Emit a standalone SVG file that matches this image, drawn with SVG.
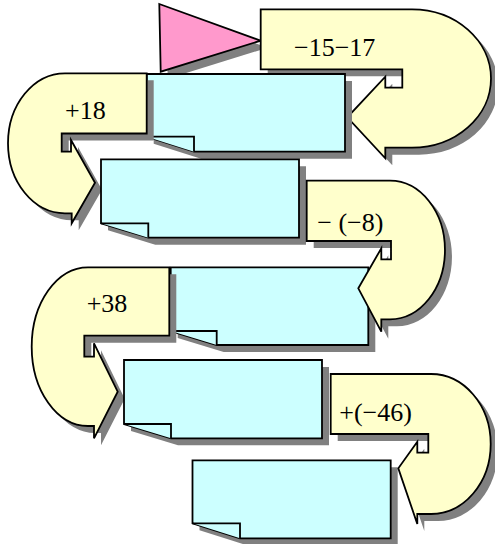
<svg xmlns="http://www.w3.org/2000/svg" xmlns:xlink="http://www.w3.org/1999/xlink" width="495" height="544" viewBox="0 0 495 544">
<style>
.sh{fill:#808080;stroke:none}
.arrow{fill:#FFFFCC;stroke:#000;stroke-width:1.8;stroke-linejoin:miter}
.note{fill:#CCFFFF;stroke:#000;stroke-width:1.8;stroke-linejoin:miter}
.tri{fill:#FF99CC;stroke:#000;stroke-width:1.8;stroke-linejoin:miter}
.lbl{font-family:"Liberation Serif","Times New Roman",serif;font-size:26px;fill:#000}
</style>
<defs>
<polygon id="tri" points="159.3,4 260.7,40.7 160.7,71.7"/>
<path id="u1" d="M260.7,9.3 H412 A79,69.2 0 0 1 412,147.7 H385.3 V158.3 L347.3,117.3 L385.3,76.7 V87.7 H402.3 V69.3 H260.7 Z"/>
<path id="u2" d="M146.7,73.3 H65 A57,70 0 0 0 65,213.3 H71.7 V223.3 L95,182.7 L71,140 V151.7 H61.7 V133.5 H146.7 Z"/>
<path id="u3" d="M306.7,180.7 H390 A55,69.3 0 0 1 390,319.3 H381.3 V331.7 L358.3,288.3 L381.3,248.3 V259.3 H391 V241 H306.7 Z"/>
<path id="u4" d="M169.3,267.3 H88 A56.3,79.35 0 0 0 88,426 H94 V438.3 L117.7,391.7 L94,343.3 V356.7 H84.3 V335.7 H169.3 Z"/>
<path id="u5" d="M330.7,374 H431 A59.7,70 0 0 1 431,514 H417.3 V524 L398.3,468.3 L417.3,441.7 V452.7 H428.3 V434 H330.7 Z"/>
<path id="b1" d="M146.7,74 H345 V151.7 H194 L146.7,136.7 Z"/>
<path id="b2" d="M101,159.3 H299 V237.7 H148.3 L101,223.3 Z"/>
<path id="b3" d="M170.7,267.3 H368.3 V345 H216.7 L170.7,331 Z"/>
<path id="b4" d="M124,360 H322 V438.3 H171 L124,424 Z"/>
<path id="b5" d="M192.5,460.3 H390.7 V538.3 H240 L192.5,523.3 Z"/>
</defs>

<g id="start">
<use xlink:href="#tri" class="sh" transform="translate(7,7)"/>
<use xlink:href="#tri" class="tri"/>
</g>

<g id="step1">
<use xlink:href="#u1" class="sh" transform="translate(7,7)"/>
<use xlink:href="#u1" class="arrow"/>
<text class="lbl" x="294" y="56">−15−17</text>
</g>

<g id="box1">
<use xlink:href="#b1" class="sh" transform="translate(7,7)"/>
<use xlink:href="#b1" class="note"/>
<polyline class="note" points="146.7,136.7 194,136.7 194,151.7"/>
</g>

<g id="step2">
<use xlink:href="#u2" class="sh" transform="translate(7,7)"/>
<use xlink:href="#u2" class="arrow"/>
<text class="lbl" x="65" y="119.3">+18</text>
</g>

<g id="box2">
<use xlink:href="#b2" class="sh" transform="translate(7,7)"/>
<use xlink:href="#b2" class="note"/>
<polyline class="note" points="101,223.3 148.3,223.3 148.3,237.7"/>
</g>

<g id="box3">
<use xlink:href="#b3" class="sh" transform="translate(7,7)"/>
<use xlink:href="#b3" class="note"/>
<polyline class="note" points="170.7,331 216.7,331 216.7,345"/>
</g>

<g id="step3">
<use xlink:href="#u3" class="sh" transform="translate(7,7)"/>
<use xlink:href="#u3" class="arrow"/>
<text class="lbl" x="317.3" y="231">− (−8)</text>
</g>

<g id="step4">
<use xlink:href="#u4" class="sh" transform="translate(7,7)"/>
<use xlink:href="#u4" class="arrow"/>
<text class="lbl" x="86.7" y="311.7">+38</text>
</g>

<g id="box4">
<use xlink:href="#b4" class="sh" transform="translate(7,7)"/>
<use xlink:href="#b4" class="note"/>
<polyline class="note" points="124,424 171,424 171,438.3"/>
</g>

<g id="box5">
<use xlink:href="#b5" class="sh" transform="translate(7,7)"/>
<use xlink:href="#b5" class="note"/>
<polyline class="note" points="192.5,523.3 240,523.3 240,538.3"/>
</g>

<g id="step5">
<use xlink:href="#u5" class="sh" transform="translate(7,7)"/>
<use xlink:href="#u5" class="arrow"/>
<text class="lbl" x="339.3" y="421">+(−46)</text>
</g>
</svg>
